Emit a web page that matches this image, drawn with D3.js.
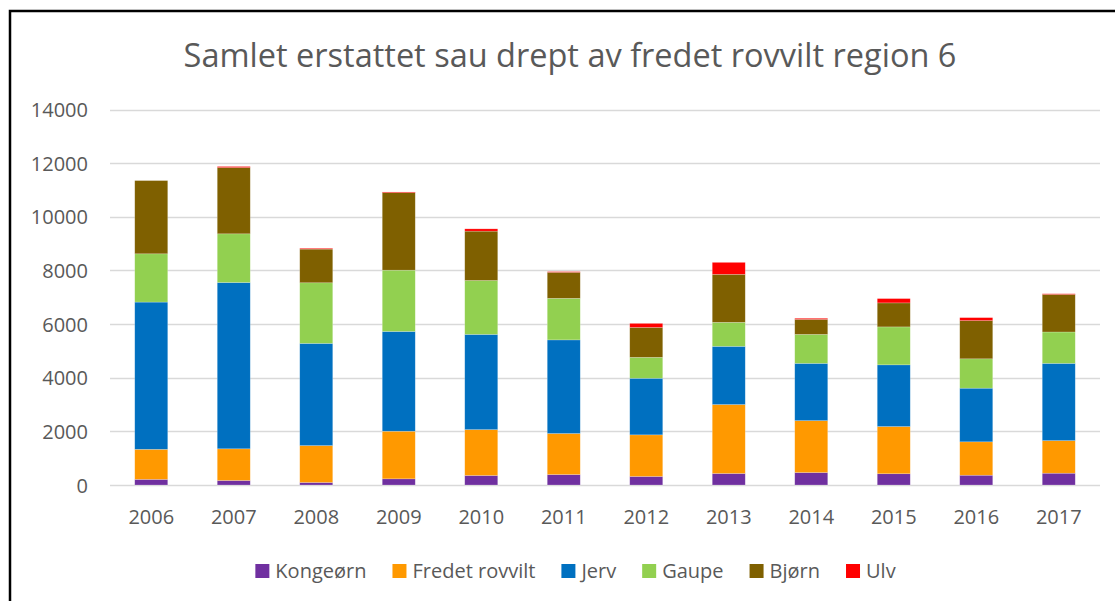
<!DOCTYPE html>
<html>
<head>
<meta charset="utf-8">
<script src="https://cdn.jsdelivr.net/npm/d3@7"></script>
<style>
  html, body { margin: 0; padding: 0; background: #fff; }
  svg { display: block; }
  text { font-family: "Open Sans", sans-serif; fill: #595959; }
</style>
</head>
<body>
<svg id="chart" width="1115" height="601"></svg>
<script>
const years = ["2006","2007","2008","2009","2010","2011","2012","2013","2014","2015","2016","2017"];
const seriesNames = ["Kongeørn","Fredet rovvilt","Jerv","Gaupe","Bjørn","Ulv"];
const kongeorn = [210, 170, 95, 230, 355, 390, 320, 430, 465, 420, 365, 440];
const fredetRovvilt = [1120, 1180, 1375, 1775, 1710, 1530, 1550, 2570, 1935, 1760, 1245, 1215];
const jerv = [5490, 6200, 3810, 3720, 3550, 3490, 2110, 2170, 2135, 2300, 2000, 2880];
const gaupe = [1800, 1815, 2260, 2285, 2010, 1550, 780, 895, 1080, 1415, 1095, 1170];
const bjorn = [2730, 2470, 1255, 2890, 1840, 970, 1115, 1790, 560, 895, 1425, 1400];
const ulv = [0, 40, 30, 25, 85, 25, 150, 445, 40, 160, 110, 25];
const yTicks = [0, 2000, 4000, 6000, 8000, 10000, 12000, 14000];
const title = "Samlet erstattet sau drept av fredet rovvilt region 6";
const colors = ["#7030A0", "#FF9900", "#0070C0", "#92D050", "#7F6000", "#FF0000"];

const seriesValues = [kongeorn, fredetRovvilt, jerv, gaupe, bjorn, ulv];
const rows = years.map((y, i) => {
  const r = { year: y };
  seriesNames.forEach((n, k) => r[n] = seriesValues[k][i]);
  return r;
});

const svg = d3.select("#chart");
const W = 1115, H = 601;

// border (left & top visible)
svg.append("path")
  .attr("d", `M10,${H} L10,11 L${W},11`)
  .attr("fill", "none").attr("stroke", "#000").attr("stroke-width", 2.5);

const x = d3.scaleBand().domain(years).range([110, 1100]).paddingInner(0.6).paddingOuter(0.3);
const y = d3.scaleLinear().domain([0, 14000]).range([485, 109.5]);

// gridlines
svg.append("g").selectAll("line").data(yTicks).join("line")
  .attr("x1", 110).attr("x2", 1100)
  .attr("y1", d => Math.round(y(d)) + 0.5).attr("y2", d => Math.round(y(d)) + 0.5)
  .attr("stroke", "#d9d9d9").attr("stroke-width", 1.5);

// y axis labels
const yAxis = d3.axisLeft(y).tickValues(yTicks).tickSize(0).tickPadding(0).tickFormat(d3.format("d"));
const gy = svg.append("g").attr("transform", "translate(88,0)").call(yAxis);
gy.select(".domain").remove();
gy.selectAll("text").style("font-size", "20px").attr("fill", "#595959").attr("dy", "0.35em");

// stacked bars
const stack = d3.stack().keys(seriesNames);
const stacked = stack(rows);
const color = d3.scaleOrdinal().domain(seriesNames).range(colors);

svg.append("g").selectAll("g").data(stacked).join("g")
  .attr("fill", d => color(d.key))
  .selectAll("rect").data(d => d).join("rect")
  .attr("x", d => x(d.data.year))
  .attr("width", x.bandwidth())
  .attr("y", d => y(d[1]))
  .attr("height", d => Math.max(0, y(d[0]) - y(d[1])))
  .attr("stroke", "rgba(255,255,255,0.35)").attr("stroke-width", 0.6);

// x axis labels
const xAxis = d3.axisBottom(x).tickSize(0).tickPadding(0);
const gx = svg.append("g").attr("transform", "translate(0,506)").call(xAxis);
gx.select(".domain").remove();
gx.selectAll("text").style("font-size", "20px").attr("fill", "#595959").attr("dy", "0.9em");

// title
svg.append("text").attr("x", 570).attr("y", 67).attr("text-anchor", "middle")
  .style("font-size", "32.5px").text(title);

// legend
const legend = svg.append("g");
const items = legend.selectAll("g").data(seriesNames).join("g");
items.append("rect").attr("width", 14).attr("height", 14).attr("y", 564).attr("fill", d => color(d));
items.append("text").attr("x", 20).attr("y", 578).style("font-size", "20px").text(d => d);
let cx = 0;
const pos = [];
items.each(function(d) {
  const w = d3.select(this).select("text").node().getComputedTextLength();
  pos.push(cx);
  cx += 20 + w + 26;
});
const totalW = cx - 26;
const startX = 575.5 - totalW / 2;
items.attr("transform", (d, i) => `translate(${startX + pos[i]},0)`);
</script>
</body>
</html>
